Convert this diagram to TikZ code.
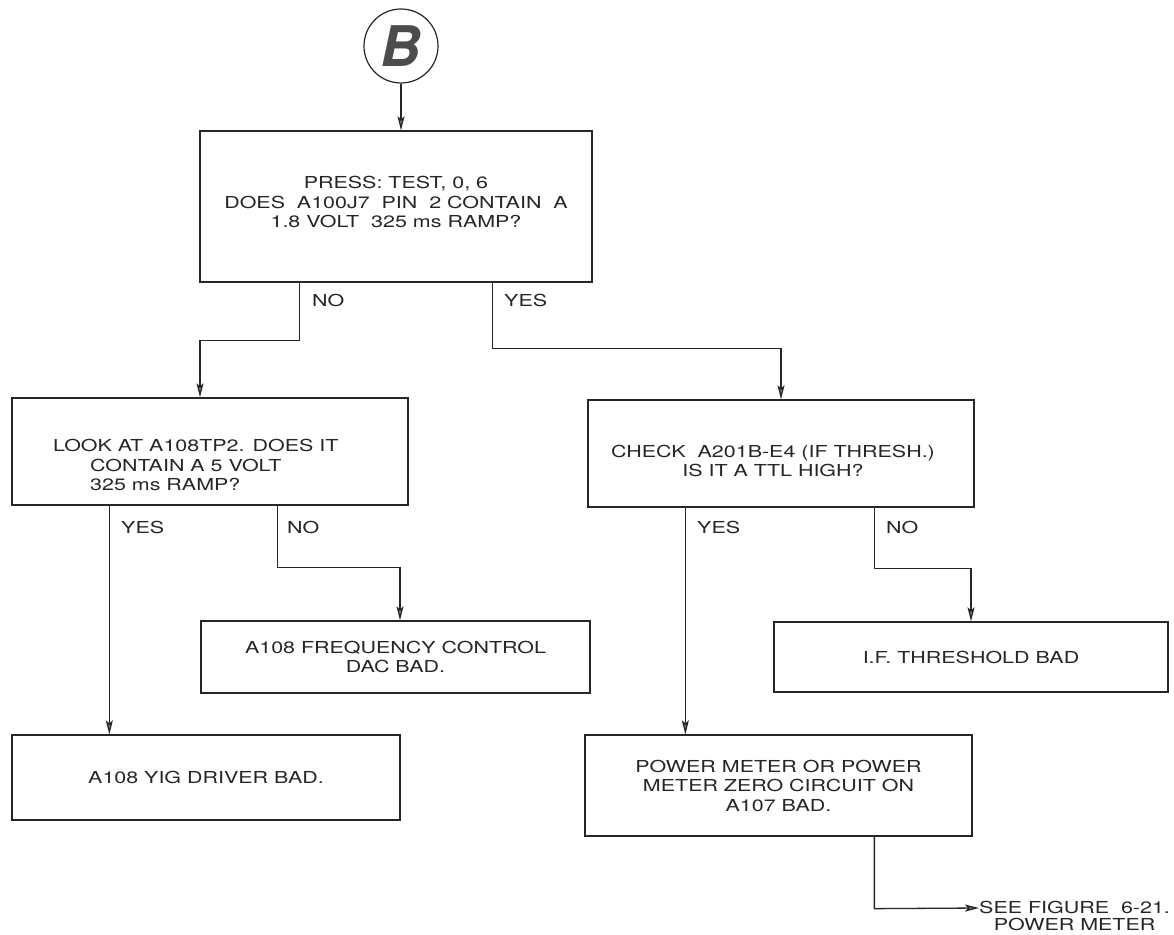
\documentclass[tikz,border=0pt]{standalone}
\usepackage{fontspec}
\setmainfont{TeX Gyre Heros}[FakeStretch=1.3]
\newfontfamily\circfont{TeX Gyre Heros}
\usetikzlibrary{arrows.meta,calc}
\begin{document}
\begin{tikzpicture}[x=1pt,y=-1pt,
  every node/.style={font=\fontsize{16.5}{19.5}\selectfont, text=black!85},
  box/.style={draw=black!85, line width=1.3pt, inner sep=0pt, align=center},
  txt/.style={align=center, inner sep=0pt},
  wire/.style={draw=black!85, line width=1.3pt},
  arr/.style={wire, -{Stealth[length=14pt,width=7pt,inset=3pt,fill=black!50]}},
  lbl/.style={anchor=west, inner sep=0pt}]
\useasboundingbox[fill=white] (0,0) rectangle (1174,934);

% start connector
\node[circle, draw=black!85, line width=1.2pt, minimum size=74pt, inner sep=0pt,
      font=\circfont\fontsize{56}{56}\selectfont\bfseries\itshape, text=black!70] (B) at (401,46) {B};

% boxes
\node[box, minimum width=392pt, minimum height=151pt] (top) at (396,206.5) {};
\node[txt] (toptxt) at (396,202)
  {PRESS: TEST, 0, 6\\DOES~ A100J7~ PIN~ 2 CONTAIN~ A\\1.8 VOLT~ 325 ms RAMP?};
\node[box, minimum width=396pt, minimum height=107pt] (left) at (210,451.5) {};
\node[anchor=north west, align=left, inner sep=0pt] (lefttxt) at (53,439)
  {LOOK AT A108TP2. DOES IT\\\hspace*{37pt}CONTAIN A 5 VOLT\\\hspace*{37pt}325 ms RAMP?};
\node[box, minimum width=386pt, minimum height=107pt] (right) at (781,453.5) {};
\node[txt] (righttxt) at (773,461)
  {CHECK~ A201B-E4 (IF THRESH.)\\IS IT A TTL HIGH?};
\node[box, minimum width=389pt, minimum height=72pt] (freq) at (395.5,657)
  {A108 FREQUENCY CONTROL\\DAC BAD.};
\node[box, minimum width=388pt, minimum height=85pt] (yig) at (206,777.5)
  {A108 YIG DRIVER BAD.};
\node[box, minimum width=394pt, minimum height=70pt] (thresh) at (971,657)
  {I.F. THRESHOLD BAD};
\node[box, minimum width=387pt, minimum height=101pt] (power) at (778.5,785.5)
  {POWER METER OR POWER\\METER ZERO CIRCUIT ON\\A107 BAD.};
\node[anchor=west, align=center, inner sep=0pt,
      font=\fontsize{16.5}{17.5}\selectfont] (see) at (979,916)
  {SEE FIGURE~ 6-21.\\POWER METER};

% connectors
\draw[arr] (B.south) -- (B.south |- top.north);

\draw[arr] ($(top.south west)+(100,0)$) -- ++(0,58) -| ($(left.north)+(-10,0)$);
\node[lbl] at (312,300) {NO};
\draw[arr] ($(top.south west)+(293,0)$) -- ++(0,66) -| (right.north);
\node[lbl] at (504,300) {YES};

\draw[arr] ($(left.south west)+(98,0)$) coordinate (ly) -- (ly |- yig.north);
\node[lbl] at (121,527) {YES};
\draw[arr] ($(left.south west)+(266,0)$) -- ++(0,62) -| ($(freq.north)+(4.5,0)$);
\node[lbl] at (287,527) {NO};

\draw[arr] ($(right.south west)+(98,0)$) coordinate (ry) -- (ry |- power.north);
\node[lbl] at (697,527) {YES};
\draw[arr] ($(right.south west)+(287,0)$) -- ++(0,61) -| (thresh.north);
\node[lbl] at (886,527) {NO};

\draw[arr] ($(power.south west)+(290,0)$) -- ++(0,72) -- (see.west |- 0,908);
\end{tikzpicture}
\end{document}
